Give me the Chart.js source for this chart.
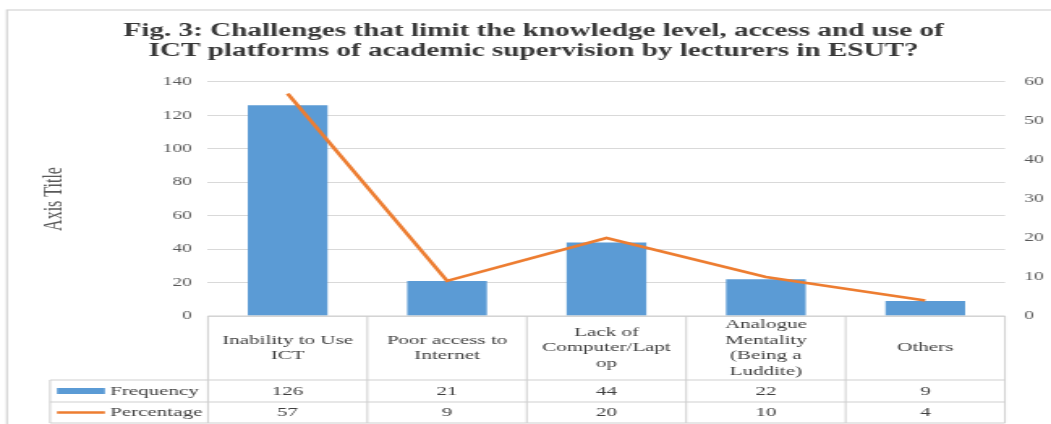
<!DOCTYPE html>
<html>
<head>
<meta charset="utf-8">
<script src="https://cdn.jsdelivr.net/npm/chart.js@4"></script>
<style>
  html, body { margin: 0; padding: 0; background: #fff; overflow: hidden; }
  #wrap { width: 649px; height: 424px; transform: scale(1.6194, 1); transform-origin: 0 0; }
</style>
</head>
<body>
<div id="wrap"><canvas id="chart" width="649" height="424"></canvas></div>
<script>
// Data
const categories = [
  ['Inability to Use', 'ICT'],
  ['Poor access to', 'Internet'],
  ['Lack of', 'Computer/Lapt', 'op'],
  ['Analogue', 'Mentality', '(Being a', 'Luddite)'],
  ['Others']
];
const frequency = [126, 21, 44, 22, 9];
const percentage = [57, 9, 20, 10, 4];
const leftTicks = [0, 20, 40, 60, 80, 100, 120, 140];
const rightTicks = [0, 10, 20, 30, 40, 50, 60];
const titleLines = [
  'Fig. 3: Challenges that limit the knowledge level, access and use of',
  'ICT platforms of academic supervision by lecturers in ESUT?'
];

const serif = '"Liberation Serif", "Times New Roman", serif';
const blue = '#5b9bd5';
const orange = '#ed7d31';
const gridGrey = '#d9d9d9';

// frame round the whole figure
const framePlugin = {
  id: 'frame',
  beforeDraw(chart) {
    const c = chart.ctx;
    c.save();
    c.fillStyle = '#fff';
    c.fillRect(0, 0, chart.width, chart.height);
    c.strokeStyle = '#d4d4d4';
    c.lineWidth = 1.2;
    c.strokeRect(4.3, 10, chart.width + 20, chart.height + 20);
    c.restore();
  }
};

// data table under the plot (category row + two series rows)
const tablePlugin = {
  id: 'dataTable',
  afterDraw(chart) {
    const c = chart.ctx;
    const xs = chart.scales.x;
    const top = chart.chartArea.bottom;
    const rowLabel = top + 64;
    const rowFreq = top + 86;
    const rowPct = top + 107;
    const half = (xs.getPixelForValue(1) - xs.getPixelForValue(0)) / 2;
    const edges = categories.map((_, i) => xs.getPixelForValue(i) - half);
    edges.push(xs.getPixelForValue(categories.length - 1) + half);
    const legLeft = 30.9;
    const right = edges[edges.length - 1];

    c.save();
    c.strokeStyle = '#cfcfcf';
    c.lineWidth = 1;
    c.beginPath();
    [rowLabel, rowFreq, rowPct].forEach(y => { c.moveTo(legLeft, y); c.lineTo(right, y); });
    c.moveTo(edges[0], top); c.lineTo(right, top);
    edges.forEach(x => { c.moveTo(x, top); c.lineTo(x, rowPct); });
    c.moveTo(legLeft, rowLabel); c.lineTo(legLeft, rowPct);
    c.stroke();

    c.fillStyle = '#404040';
    c.font = '13px ' + serif;
    c.textAlign = 'center';
    c.textBaseline = 'middle';
    const lh = 15.5;
    categories.forEach((lines, i) => {
      const cx = xs.getPixelForValue(i);
      const cy = (top + rowLabel) / 2 - (lines.length - 1) * lh / 2;
      lines.forEach((t, k) => c.fillText(t, cx, cy + k * lh));
      c.fillText(String(frequency[i]), cx, (rowLabel + rowFreq) / 2 + 0.5);
      c.fillText(String(percentage[i]), cx, (rowFreq + rowPct) / 2 + 0.5);
    });

    // legend keys in the first column
    const yF = (rowLabel + rowFreq) / 2;
    const yP = (rowFreq + rowPct) / 2;
    c.fillStyle = blue;
    c.fillRect(35.2, yF - 3, 29.6, 6);
    c.strokeStyle = orange;
    c.lineWidth = 2.5;
    c.beginPath(); c.moveTo(35.2, yP); c.lineTo(64.8, yP); c.stroke();
    c.fillStyle = '#404040';
    c.textAlign = 'left';
    c.fillText(chart.data.datasets[0].label, 67.9, yF + 0.5);
    c.fillText(chart.data.datasets[1].label, 67.9, yP + 0.5);
    c.restore();
  }
};

new Chart(document.getElementById('chart'), {
  data: {
    labels: categories,
    datasets: [
      {
        type: 'bar',
        label: 'Frequency',
        data: frequency,
        backgroundColor: blue,
        yAxisID: 'y',
        barPercentage: 0.5,
        categoryPercentage: 1,
        order: 2
      },
      {
        type: 'line',
        label: 'Percentage',
        data: percentage,
        borderColor: orange,
        borderWidth: 2.6,
        pointRadius: 0,
        tension: 0,
        yAxisID: 'y1',
        order: 1
      }
    ]
  },
  plugins: [framePlugin, tablePlugin],
  options: {
    responsive: false,
    animation: false,
    layout: { padding: { left: 10, right: 0, top: 0, bottom: 0 } },
    plugins: {
      legend: { display: false },
      tooltip: { enabled: false },
      title: {
        display: true,
        text: titleLines,
        color: '#383838',
        font: { family: serif, size: 18, weight: 'bold', lineHeight: 1.11 },
        padding: { top: 21, bottom: 21 }
      }
    },
    scales: {
      x: {
        grid: { display: false, drawTicks: false },
        border: { display: false },
        ticks: { display: false },
        afterFit(s) { s.height = 108; }
      },
      y: {
        position: 'left',
        min: 0,
        max: 140,
        afterBuildTicks(s) { s.ticks = leftTicks.map(v => ({ value: v })); },
        ticks: { color: '#595959', padding: 10, font: { family: serif, size: 12 } },
        grid: { color: gridGrey, drawTicks: false, lineWidth: 1 },
        border: { display: false },
        title: {
          display: true,
          text: 'Axis Title',
          color: '#595959',
          font: { family: serif, size: 16 },
          padding: { top: 14, bottom: 0 }
        },
        afterFit(s) { s.width = 118.4; }
      },
      y1: {
        position: 'right',
        min: 0,
        max: 60,
        afterBuildTicks(s) { s.ticks = rightTicks.map(v => ({ value: v })); },
        ticks: { color: '#595959', padding: 12, font: { family: serif, size: 12 } },
        grid: { display: false, drawTicks: false },
        border: { display: false },
        afterFit(s) { s.width = 28.4; }
      }
    }
  }
});
</script>
</body>
</html>
